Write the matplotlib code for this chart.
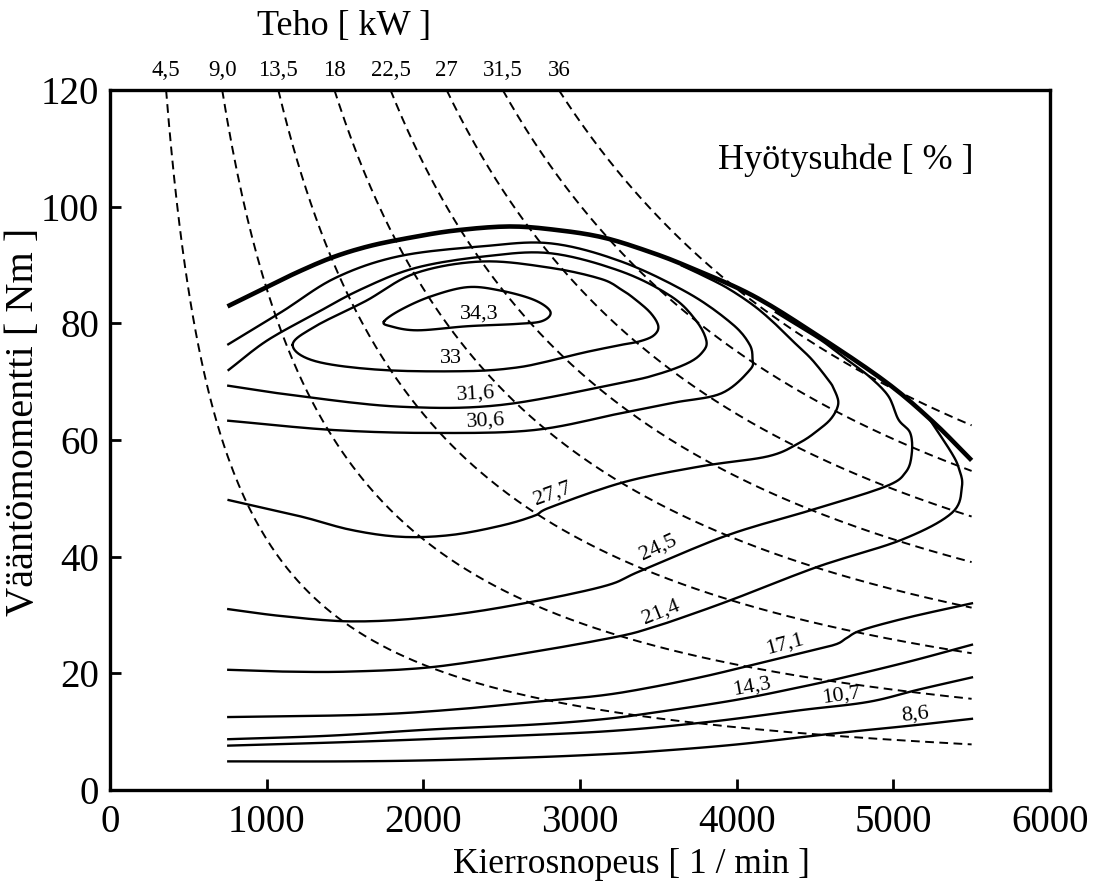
import matplotlib.pyplot as plt
import numpy as np

plt.rcParams['font.family'] = ['Liberation Serif', 'DejaVu Serif']

# constant power lines [kW] (torque = 9549 * P / n)
power_kw = [4.5, 9.0, 13.5, 18, 22.5, 27, 31.5, 36]
power_labels = ['4,5', '9,0', '13,5', '18', '22,5', '27', '31,5', '36']
n_max = 5500

# full load torque curve
full_n = [750, 1000, 1200, 1420, 1650, 1900, 2200, 2550, 2850, 3150, 3450, 3700, 4100, 4500, 4950, 5250, 5500]
full_t = [82.9, 86.2, 88.8, 91.3, 93.2, 94.6, 95.9, 96.6, 96.0, 94.7, 92.2, 89.6, 84.8, 78.2, 70.0, 63.2, 56.5]

eta_343_n = [1749, 1855, 2047, 2282, 2495, 2708, 2811, 2760, 2600, 2282, 1962, 1791, 1749]
eta_343_t = [80.3, 82.3, 84.6, 86.2, 85.6, 84.0, 82.0, 80.4, 79.9, 79.5, 78.8, 79.5, 80.3]

eta_33_n = [1166, 1312, 1631, 1951, 2378, 2815, 3135, 3263, 3348, 3450, 3500, 3470, 3380, 3263, 3027, 2815, 2591, 2282, 1738, 1312, 1166]
eta_33_t = [76.3, 79.5, 83.8, 88.6, 90.6, 89.5, 87.6, 85.8, 84.2, 81.8, 79.5, 77.9, 76.9, 76.3, 75.0, 73.6, 72.4, 71.8, 72.0, 73.5, 76.3]

eta_316_n = [757, 1000, 1300, 1600, 1951, 2400, 2815, 3263, 3583, 3740, 3807, 3780, 3690, 3500, 3263, 2495, 1855, 1216, 755]
eta_316_t = [72.0, 77.0, 81.5, 85.8, 89.5, 91.5, 92.0, 88.9, 84.6, 80.5, 77.0, 75.0, 73.2, 71.3, 69.8, 66.0, 65.7, 67.5, 69.3]

eta_306_n = [755, 1098, 1440, 1845, 2378, 2815, 3263, 3690, 3967, 4080, 4101, 4084, 3903, 3600, 3263, 2708, 2068, 1429, 755]
eta_306_t = [76.4, 82.0, 87.8, 91.5, 93.2, 93.7, 90.6, 85.2, 80.0, 76.5, 74.0, 72.0, 68.0, 66.4, 64.6, 61.7, 61.2, 61.7, 63.3]

eta_277_n = [757, 1216, 1536, 1855, 2175, 2495, 2708, 2815, 3284, 3775, 4201, 4400, 4521, 4607, 4649, 4620, 4585, 4480, 4372, 4250, 4116, 3950, 3800, 3650]
eta_277_t = [49.7, 46.9, 44.6, 43.4, 43.7, 45.3, 47.0, 48.5, 52.8, 55.5, 57.2, 59.5, 61.7, 63.8, 66.3, 68.8, 70.3, 73.8, 76.6, 79.8, 82.9, 85.9, 88.0, 89.9]

eta_245_n = [755, 1100, 1536, 2000, 2500, 3135, 3391, 3945, 4479, 4948, 5080, 5118, 5108, 5033, 4969, 4850, 4713, 4550, 4400, 4250]
eta_245_t = [31.0, 29.8, 28.9, 29.5, 31.3, 34.8, 37.6, 43.7, 48.0, 52.0, 54.5, 57.7, 61.2, 63.5, 67.5, 70.8, 73.6, 76.9, 79.4, 81.9]

eta_214_n = [755, 1100, 1536, 2068, 2708, 3242, 3455, 3668, 3988, 4521, 5054, 5374, 5438, 5420, 5374, 5230]
eta_214_t = [20.6, 20.3, 20.3, 21.1, 23.7, 26.3, 27.8, 29.7, 32.8, 38.3, 42.9, 47.5, 52.0, 55.0, 57.7, 63.6]

eta_171_n = [755, 1642, 2200, 2708, 3135, 3455, 3800, 4095, 4400, 4626, 4700, 4798, 5100, 5502]
eta_171_t = [12.5, 12.9, 13.8, 15.1, 16.2, 17.6, 19.5, 21.4, 23.4, 24.9, 26.0, 27.4, 29.6, 32.0]

eta_143_n = [755, 1400, 2068, 2700, 3135, 3455, 3988, 4400, 4670, 5100, 5502]
eta_143_t = [8.7, 9.3, 10.4, 11.2, 12.1, 13.2, 15.4, 17.6, 19.2, 22.0, 24.9]

eta_107_n = [755, 1500, 2200, 3135, 3800, 4415, 4841, 5161, 5502]
eta_107_t = [7.6, 8.2, 8.9, 10.0, 11.6, 13.7, 15.1, 17.2, 19.3]

eta_86_n = [755, 1500, 2068, 2700, 3135, 3455, 4000, 4626, 5100, 5502]
eta_86_t = [4.9, 4.9, 5.1, 5.6, 6.1, 6.6, 7.8, 9.7, 11.0, 12.2]

eta_values = ['34,3', '33', '31,6', '30,6', '27,7', '24,5', '21,4', '17,1', '14,3', '10,7', '8,6']
eta_curves = [(eta_343_n, eta_343_t), (eta_33_n, eta_33_t), (eta_316_n, eta_316_t),
              (eta_306_n, eta_306_t), (eta_277_n, eta_277_t), (eta_245_n, eta_245_t),
              (eta_214_n, eta_214_t), (eta_171_n, eta_171_t), (eta_143_n, eta_143_t),
              (eta_107_n, eta_107_t), (eta_86_n, eta_86_t)]


def smooth(xs, ys, steps=10):
    # catmull-rom curve through the traced points (scaled so both axes weigh alike)
    sx, sy = 0.1563, 5.83
    p = np.column_stack([np.asarray(xs, float) * sx, np.asarray(ys, float) * sy])
    if xs[0] == xs[-1] and ys[0] == ys[-1]:
        p = np.vstack([p[-2], p, p[1]])
    else:
        p = np.vstack([2 * p[0] - p[1], p, 2 * p[-1] - p[-2]])
    t = np.linspace(0, 1, steps, endpoint=False)[:, None]
    out = []
    for i in range(1, len(p) - 2):
        p0, p1, p2, p3 = p[i - 1], p[i], p[i + 1], p[i + 2]
        out.append(0.5 * (2 * p1 + (p2 - p0) * t + (2 * p0 - 5 * p1 + 4 * p2 - p3) * t ** 2
                          + (3 * p1 - p0 - 3 * p2 + p3) * t ** 3))
    out.append(p[-2][None])
    out = np.vstack(out)
    return out[:, 0] / sx, out[:, 1] / sy


fig = plt.figure(figsize=(11, 8.9), dpi=100)
ax = fig.add_axes([0.1, 0.1124, 0.8545, 0.7865])

# power hyperbolas
for p in power_kw:
    n_start = 9549.3 * p / 120
    n = np.linspace(n_start, n_max, 300)
    ax.plot(n, 9549.3 * p / n, color='black', lw=1.4, ls=(0, (4.5, 2.8)))

for n, t in eta_curves:
    x, y = smooth(n, t)
    ax.plot(x, y, color='black', lw=1.7, solid_joinstyle='round')

x, y = smooth(full_n, full_t)
ax.plot(x, y, color='black', lw=3.3, solid_joinstyle='round', solid_capstyle='butt')

# contour labels: (n, torque, rotation)
label_pos = [(2357, 81.6, 0), (2175, 74.0, 0), (2335, 67.9, 3), (2399, 63.3, 3),
             (2826, 50.8, 20), (3497, 41.6, 25), (3519, 30.5, 22), (4306, 25.0, 15),
             (4095, 17.6, 10), (4670, 16.2, 8), (5138, 12.9, 6)]
for txt, (x, y, r) in zip(eta_values, label_pos):
    ax.text(x, y, txt, ha='center', va='center', rotation=r, fontsize=16)

# power labels above the frame
for p, lab in zip(power_kw, power_labels):
    ax.text(9549.3 * p / 120, 123.4, lab, ha='center', va='center', fontsize=16.5, clip_on=False)

ax.text(1491, 130.8, 'Teho [ kW ]', ha='center', va='center', fontsize=26, clip_on=False)
ax.text(5515, 107.9, 'Hyötysuhde [ % ]', ha='right', va='center', fontsize=26)

ax.set_xlim(0, 6000)
ax.set_ylim(0, 120)
ax.set_xticks(range(0, 6001, 1000))
ax.set_yticks(range(0, 121, 20))
ax.tick_params(direction='in', length=8, width=2, labelsize=28, top=False, right=False)
ax.tick_params(axis='x', pad=10)
ax.tick_params(axis='y', pad=8)
for s in ax.spines.values():
    s.set_linewidth(2.4)

ax.set_xlabel('Kierrosnopeus [ 1 / min ]', fontsize=25.5, ha='center', va='center')
ax.set_ylabel('Vääntömomentti [ Nm ]', fontsize=29, ha='center', va='center')
ax.xaxis.set_label_coords(0.555, -0.107)
ax.yaxis.set_label_coords(-0.0915, 0.5257)

plt.savefig('out.png', dpi=100)
